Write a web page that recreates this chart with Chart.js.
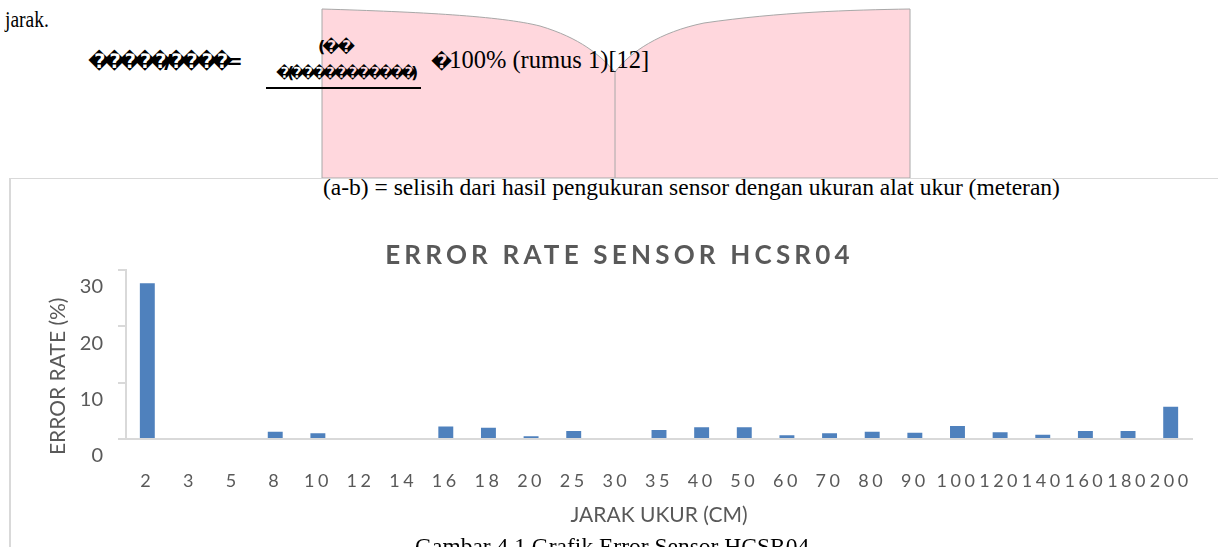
<!DOCTYPE html>
<html>
<head>
<meta charset="utf-8">
<script src="https://cdn.jsdelivr.net/npm/chart.js@4.4.1/dist/chart.umd.min.js"></script>
<style>
  html, body { margin: 0; padding: 0; background: #fff; }
  body { width: 1218px; height: 547px; position: relative; overflow: hidden;
         font-family: "Liberation Serif", "Times New Roman", serif; color: #000; }
  .t { position: absolute; white-space: nowrap; line-height: 1; }
  .g { font-family: "DejaVu Sans", sans-serif; font-weight: bold; }
  #frame { position: absolute; left: 9px; top: 178px; width: 1209px; height: 369px;
           border-left: 2px solid #d9d9d9; border-top: 1px solid #d9d9d9; box-sizing: border-box; }
  #wrap { position: absolute; left: 0; top: 178px; width: 1218px; height: 369px; }
</style>
</head>
<body>
<svg style="position:absolute;left:0;top:0" width="1218" height="200">
  <path d="M322,178 L322,9 C420,12 500,16 540,26 C580,38 600,55 615,72 C630,52 660,32 704,23 C780,12 850,10 910,9 L910,178 Z"
        fill="#ffd7dd" stroke="#a8a8a8" stroke-width="1"/>
  <line x1="615" y1="72" x2="615" y2="178" stroke="#a8a8a8" stroke-width="1"/>
</svg>

<div class="t" style="left:5px;top:8px;font-size:23px;transform:scaleX(0.85);transform-origin:0 0">jarak.</div>
<div class="t g" style="left:88px;top:51px;font-size:20px;letter-spacing:-7px">�����//����=</div>
<div class="t g" style="left:318px;top:39px;font-size:16px;letter-spacing:-3px">(��</div>
<div class="t g" style="left:276px;top:66px;font-size:15px;letter-spacing:-5.5px">�(��� ���� ����)</div>
<div style="position:absolute;left:266px;top:87px;width:155px;height:2px;background:#000"></div>
<div class="t" style="left:431px;top:48px;font-size:24.5px"><span class="g" style="font-size:19px;letter-spacing:-3px">�</span>100% (rumus 1)[12]</div>

<div id="frame"></div>
<div class="t" style="left:323px;top:176px;font-size:23.5px">(a-b) = selisih dari hasil pengukuran sensor dengan ukuran alat ukur (meteran)</div>
<div id="wrap"><canvas id="errorChart"></canvas></div>
<div class="t" style="left:415px;top:535px;font-size:23.5px">Gambar 4.1 Grafik Error Sensor HCSR04</div>

<script>
const jarak = ['2', '3', '5', '8', '10', '12', '14', '16', '18', '20', '25', '30', '35',
               '40', '50', '60', '70', '80', '90', '100', '120', '140', '160', '180', '200'];
const errorRate = [27.6, 0, 0, 1.3, 1.0, 0, 0, 2.2, 2.0, 0.5, 1.4, 0, 1.6,
                   2.1, 2.1, 0.65, 1.0, 1.3, 1.1, 2.3, 1.2, 0.75, 1.4, 1.4, 5.7];
const yMax = 30;
const yStep = 10;

const grey = '#595959';
const axisGrey = '#d9d9d9';

// canvas letterSpacing only where the original is spaced out
function spaced(obj, method, gap) {
    if (!obj || obj[method]._spaced) return;
    const orig = obj[method];
    const fn = function () {
        const prev = this.ctx.letterSpacing;
        this.ctx.letterSpacing = gap;
        orig.apply(this, arguments);
        this.ctx.letterSpacing = prev;
    };
    fn._spaced = true;
    obj[method] = fn;
}

const extras = {
    id: 'extras',
    beforeDraw(chart) {
        spaced(chart.scales.x, 'drawLabels', '3.5px');
        spaced(chart.titleBlock, 'draw', '4.2px');
    },
    afterDraw(chart) {
        const {ctx, chartArea} = chart;
        ctx.save();
        ctx.fillStyle = grey;
        ctx.font = '21px Lato';
        ctx.translate(58, (chartArea.top + chartArea.bottom) / 2 + 22);
        ctx.rotate(-Math.PI / 2);
        ctx.textAlign = 'center';
        ctx.textBaseline = 'middle';
        ctx.fillText('ERROR RATE (%)', 0, 0);
        ctx.restore();
    }
};

new Chart(document.getElementById('errorChart'), {
    type: 'bar',
    data: {
        labels: jarak,
        datasets: [{
            label: 'Error Rate',
            data: errorRate,
            backgroundColor: '#4f81bd',
            barPercentage: 0.35,
            categoryPercentage: 1
        }]
    },
    plugins: [extras],
    options: {
        responsive: true,
        maintainAspectRatio: false,
        animation: false,
        layout: {
            padding: {top: 63, left: 47, right: 26, bottom: 19}
        },
        plugins: {
            legend: {display: false},
            tooltip: {enabled: false},
            title: {
                display: true,
                text: 'ERROR RATE SENSOR HCSR04',
                color: grey,
                font: {family: 'Lato', size: 26, weight: 'bold', lineHeight: 1.1},
                padding: {top: 0, bottom: 0}
            }
        },
        scales: {
            x: {
                afterFit: (s) => { s.height = 89; },
                grid: {display: false, drawTicks: false},
                border: {color: axisGrey, width: 2},
                ticks: {
                    color: grey,
                    font: {family: 'Lato', size: 18},
                    padding: 31,
                    autoSkip: false,
                    maxRotation: 0
                },
                title: {
                    display: true,
                    text: 'JARAK UKUR (CM)',
                    color: grey,
                    font: {family: 'Lato', size: 21},
                    padding: {top: 0, bottom: 0}
                }
            },
            y: {
                min: 0,
                max: yMax,
                afterFit: (s) => { s.width = 79; },
                grid: {drawOnChartArea: false, drawTicks: true, tickLength: 8, color: axisGrey, lineWidth: 2},
                border: {color: axisGrey, width: 2},
                ticks: {
                    stepSize: yStep,
                    color: grey,
                    font: {family: 'Lato', size: 20},
                    padding: 15,
                    labelOffset: 17
                }
            }
        }
    }
});
</script>
</body>
</html>
